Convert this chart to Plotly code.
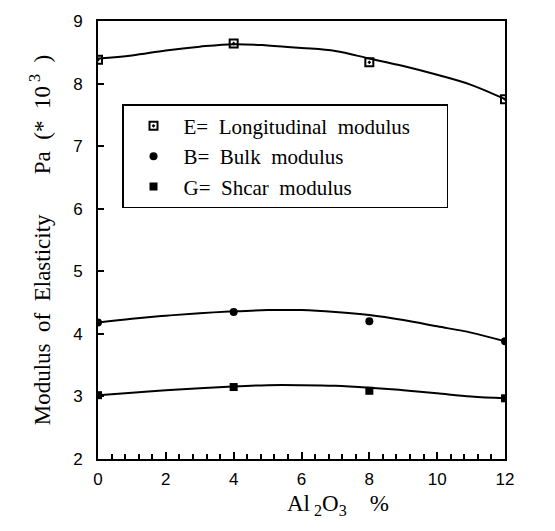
import plotly.graph_objects as go

# Al2O3 content (%) at the measured points
al2o3 = [0, 4, 8, 12]

# Measured moduli (Pa * 10^3)
e_mod = [8.38, 8.64, 8.34, 7.75]
b_mod = [4.18, 4.35, 4.20, 3.88]
g_mod = [3.02, 3.15, 3.09, 2.97]

# Smoothed trend curves through the measurements
curve_x = [0, 1, 2, 3, 4, 5, 6, 7, 8, 9, 10, 11, 12]
e_curve = [8.40, 8.45, 8.53, 8.59, 8.63, 8.61, 8.57, 8.52, 8.40, 8.28, 8.14, 7.98, 7.75]
b_curve = [4.18, 4.24, 4.29, 4.33, 4.36, 4.38, 4.38, 4.35, 4.30, 4.22, 4.12, 4.02, 3.88]
g_curve = [3.02, 3.06, 3.10, 3.13, 3.16, 3.18, 3.18, 3.17, 3.14, 3.10, 3.05, 3.00, 2.97]

x_ticks = [0, 2, 4, 6, 8, 10, 12]
y_ticks = [2, 3, 4, 5, 6, 7, 8, 9]

serif = "Liberation Serif"
sans = "Liberation Sans"
pad = "\u00a0" * 6  # keeps the legend box wide

fig = go.Figure()

for cy in (e_curve, b_curve, g_curve):
    fig.add_trace(go.Scatter(
        x=curve_x, y=cy, mode="lines", line=dict(color="black", width=2, shape="spline"),
        showlegend=False, hoverinfo="skip"))

fig.add_trace(go.Scatter(
    x=al2o3, y=e_mod, mode="markers", name="E=  Longitudinal  modulus" + pad, legendgroup="e",
    marker=dict(symbol="square-open-dot", size=8, color="black", line=dict(width=2))))
fig.add_trace(go.Scatter(
    x=al2o3, y=b_mod, mode="markers", name="B=  Bulk  modulus", legendgroup="b",
    marker=dict(symbol="circle", size=8, color="black")))
fig.add_trace(go.Scatter(
    x=al2o3, y=g_mod, mode="markers", name="G=  Shcar  modulus", legendgroup="g",
    marker=dict(symbol="square", size=8, color="black")))

fig.update_layout(
    width=555, height=531,
    margin=dict(l=98, r=50, t=15, b=72),
    paper_bgcolor="white", plot_bgcolor="white",
    font=dict(family=serif, color="black"),
    legend=dict(
        x=0.059, y=0.81, xanchor="left", yanchor="top",
        bordercolor="black", borderwidth=1.5, bgcolor="white",
        font=dict(family=serif, size=21, color="black"),
        itemwidth=50, tracegroupgap=0),
    xaxis=dict(
        range=[0, 12], tickvals=x_ticks, ticktext=[str(v) for v in x_ticks],
        showgrid=False, zeroline=False,
        showline=True, linecolor="black", linewidth=2, mirror=True,
        ticks="inside", ticklen=7, tickwidth=1.5, tickcolor="black",
        minor=dict(dtick=0.4, ticks="inside", ticklen=5, tickwidth=1.5, tickcolor="black"),
        tickfont=dict(family=sans, size=17), ticklabelstandoff=4,
    ),
    yaxis=dict(
        range=[2, 9], tickvals=y_ticks, ticktext=[str(v) for v in y_ticks],
        showgrid=False, zeroline=False,
        showline=True, linecolor="black", linewidth=2, mirror=True,
        ticks="inside", ticklen=6, tickwidth=1.5, tickcolor="black",
        tickfont=dict(family=sans, size=17), ticklabelstandoff=10,
        title=dict(text="Modulus  of  Elasticity       Pa  (*  10<sup> 3</sup>  )",
                   font=dict(family=serif, size=23), standoff=16),
    ),
)

# Axis label for the composition axis
fig.add_annotation(
    text="Al<sub> 2</sub>O<sub>3</sub>    %", xref="paper", yref="paper",
    x=0.59, y=-0.105, xanchor="center", yanchor="middle", showarrow=False,
    font=dict(family=serif, size=23, color="black"))

fig.write_html("out.html")
